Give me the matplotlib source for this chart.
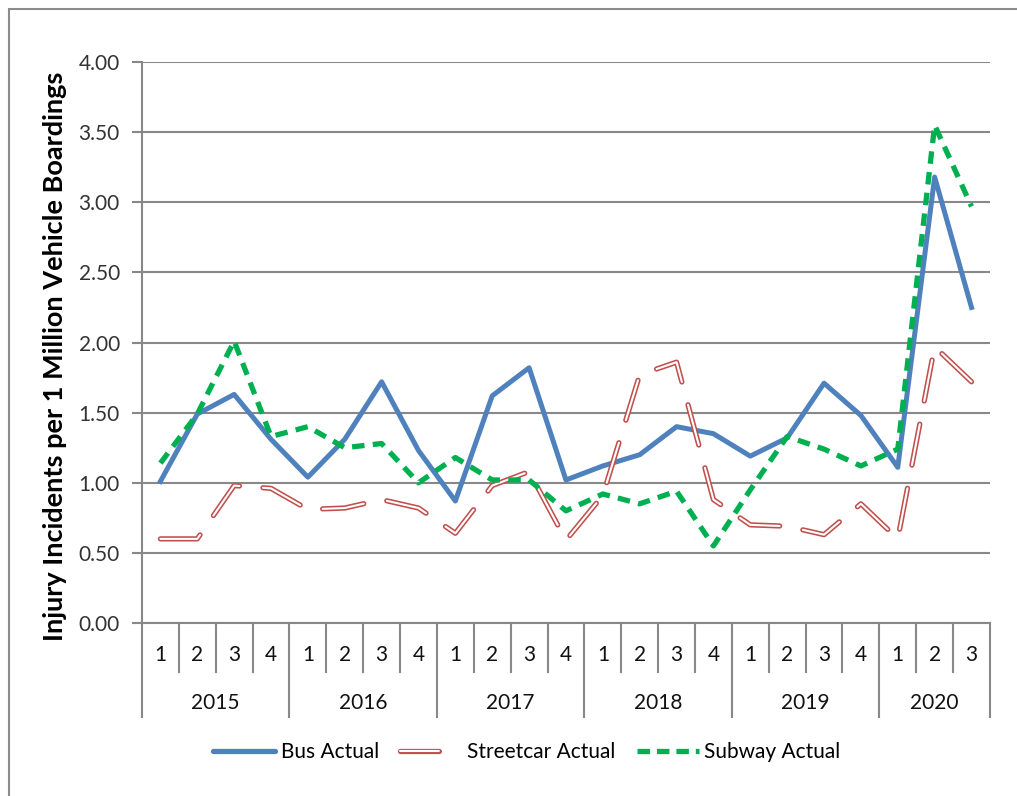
import matplotlib
matplotlib.use("Agg")
import matplotlib.pyplot as plt
from matplotlib.lines import Line2D
import matplotlib.patheffects as pe
from matplotlib.patches import Rectangle
import matplotlib.transforms as mtransforms

plt.rcParams['font.family'] = ['Lato', 'DejaVu Sans']
plt.rcParams['lines.scale_dashes'] = False

# data
years = ['2015', '2016', '2017', '2018', '2019', '2020']
quarters_per_year = [4, 4, 4, 4, 4, 3]
bus = [1.01, 1.49, 1.63, 1.31, 1.04, 1.31, 1.72, 1.23, 0.87, 1.62, 1.82, 1.02,
       1.12, 1.20, 1.40, 1.35, 1.19, 1.32, 1.71, 1.48, 1.11, 3.18, 2.25]
streetcar = [0.60, 0.60, 0.98, 0.96, 0.81, 0.82, 0.88, 0.82, 0.64, 0.98, 1.08, 0.59,
             0.91, 1.77, 1.86, 0.88, 0.70, 0.69, 0.63, 0.85, 0.60, 1.97, 1.72]
subway = [1.14, 1.49, 2.01, 1.33, 1.40, 1.25, 1.28, 1.00, 1.18, 1.02, 1.02, 0.80,
          0.92, 0.85, 0.94, 0.55, 0.95, 1.33, 1.24, 1.12, 1.24, 3.55, 2.97]

blue = '#4F81BD'
red = '#C0504D'
green = '#00B050'
grey = '#888888'
fs = 15

fig = plt.figure(figsize=(10.17, 7.96), dpi=100)
ax = fig.add_axes([0.1396, 0.2173, 0.8338, 0.7048])

# outer chart border (cropped at right/bottom like the screenshot)
fig.patches.append(Rectangle((9 / 1017, -0.05), 1.2, 1 - 9 / 796 + 0.05,
                             transform=fig.transFigure, fill=False,
                             edgecolor='#8c8c8c', linewidth=1.5))

# hollow "double line" look for streetcar
hollow = [pe.Stroke(linewidth=3.8, foreground=red), pe.Normal()]

x = list(range(len(bus)))
ax.plot(x, bus, color=blue, lw=3.6, zorder=3, label='Bus Actual')
ax.plot(x, streetcar, color='white', lw=1.5, dashes=(30, 17), dash_capstyle='round',
        path_effects=hollow, zorder=3, label='Streetcar Actual')
ax.plot(x, subway, color=green, lw=3.8, dashes=(9, 6), zorder=4, label='Subway Actual')

ax.set_xlim(-0.5, len(bus) - 0.5)
ax.set_ylim(0, 4)
ax.set_yticks([i * 0.5 for i in range(9)])
ax.set_yticklabels([f'{i * 0.5:.2f}' for i in range(9)], fontsize=fs, color='#333333')
ax.yaxis.grid(True, color=grey, lw=1.5)
ax.set_axisbelow(True)
ax.tick_params(axis='y', length=7, width=1.5, color=grey, pad=9)
ax.set_xticks([])
for s in ['top', 'right', 'bottom']:
    ax.spines[s].set_visible(False)
ax.spines['left'].set_color(grey)
ax.spines['left'].set_linewidth(1.5)

# two-level category axis
trans = mtransforms.blended_transform_factory(ax.transData, ax.transAxes)
q_bottom = -0.0873
y_bottom = -0.1676
i = 0
ax.plot([-0.5, -0.5], [0, y_bottom], transform=trans, color=grey, lw=1.5, clip_on=False)
for yr, n in zip(years, quarters_per_year):
    for q in range(n):
        ax.text(i + q, -0.057, str(q + 1), transform=trans, ha='center', va='center',
                fontsize=fs, color='#111111')
        if q < n - 1:
            ax.plot([i + q + 0.5] * 2, [0, q_bottom], transform=trans, color=grey,
                    lw=1.5, clip_on=False)
    ax.text(i + (n - 1) / 2, -0.1426, yr, transform=trans, ha='center', va='center',
            fontsize=fs, color='#111111')
    i += n
    ax.plot([i - 0.5] * 2, [0, y_bottom], transform=trans, color=grey, lw=1.5, clip_on=False)
ax.plot([-0.5, len(bus) - 0.5], [0, 0], transform=trans, color=grey, lw=1.5, clip_on=False)

fig.text(55 / 1017, 1 - 356 / 796, 'Injury Incidents per 1 Million Vehicle Boardings',
         rotation=90, ha='center', va='center', fontsize=19.5, fontweight='bold')

h_bus = Line2D([], [], color=blue, lw=3.8, solid_capstyle='round')
h_sc = Line2D([], [], color='white', lw=1.5, dashes=(28, 40), dash_capstyle='round',
              path_effects=hollow)
h_sub = Line2D([], [], color=green, lw=3.8, dashes=(9, 5))
fig.legend([h_bus, h_sc, h_sub], ['Bus Actual', 'Streetcar Actual', 'Subway Actual'],
           loc='center', bbox_to_anchor=(0.518, 0.055), ncol=3, frameon=False,
           fontsize=fs, handlelength=3.0, handletextpad=0.25, columnspacing=1.0)

fig.savefig('out.png', dpi=100)
